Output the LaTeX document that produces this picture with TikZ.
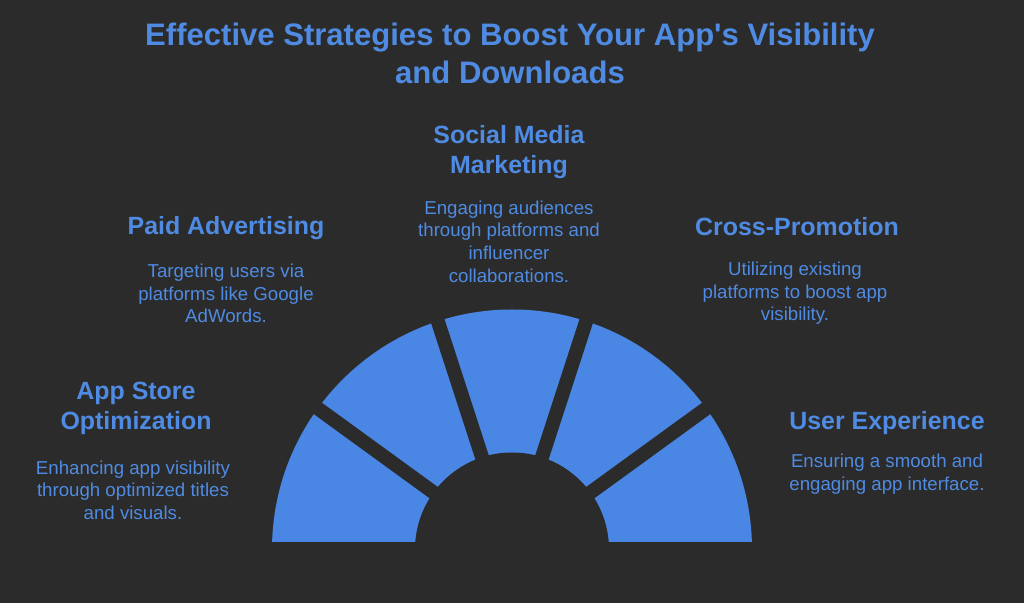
\documentclass[tikz,border=0pt]{standalone}
\usepackage{fontspec}
\setmainfont{Liberation Sans}
\usepackage{tikz}
\definecolor{bgdark}{HTML}{2B2B2B}
\definecolor{fanblue}{HTML}{4A86E4}
\definecolor{textblue}{HTML}{4F8BE3}

\tikzset{
  maintitle/.style={text=textblue,align=center,font=\fontsize{23.3}{28.5}\selectfont\bfseries},
  headline/.style={text=textblue,align=center,font=\fontsize{18.7}{22.5}\selectfont\bfseries},
  blurb/.style={text=textblue,align=center,font=\fontsize{14}{17}\selectfont},
}

\begin{document}
\begin{tikzpicture}[line join=round,x=0.75pt,y=0.75pt]
      \useasboundingbox (0,0) rectangle (1024,603);
      \fill[bgdark] (0,0) rectangle (1024,603);
      % half fan of five pieces
      \begin{scope}
        \clip (0,61.5) rectangle (1024,603);
        \fill[fanblue] (512,53.5) circle (240);
        \foreach \a in {36,72,108,144}
        \draw[bgdark,line width=10.5pt] (512,53.5) -- ++(\a:260);
        \fill[bgdark] (512,53.5) circle (97);
      \end{scope}
      % title
      \node[maintitle] (title) at (510,550) {Effective Strategies to Boost Your App\textquotesingle s Visibility\\and Downloads};
      % labels round the fan
      \node[headline] (aso) at (136,195) {App Store\\Optimization};
      \node[blurb] (asotxt) at (133,113) {Enhancing app visibility\\through optimized titles\\and visuals.};
      \node[headline] (paid) at (226,375) {Paid Advertising};
      \node[blurb] (paidtxt) at (226,309.5) {Targeting users via\\platforms like Google\\AdWords.};
      \node[headline] (social) at (509,450.5) {Social Media\\Marketing};
      \node[blurb] (socialtxt) at (509,361.5) {Engaging audiences\\through platforms and\\influencer\\collaborations.};
      \node[headline] (cross) at (797,376) {Cross-Promotion};
      \node[blurb] (crosstxt) at (795,309.5) {Utilizing existing\\platforms to boost app\\visibility.};
      \node[headline] (ux) at (887,179.5) {User Experience};
      \node[blurb] (uxtxt) at (887,128.5) {Ensuring a smooth and\\engaging app interface.};
\end{tikzpicture}
\end{document}
